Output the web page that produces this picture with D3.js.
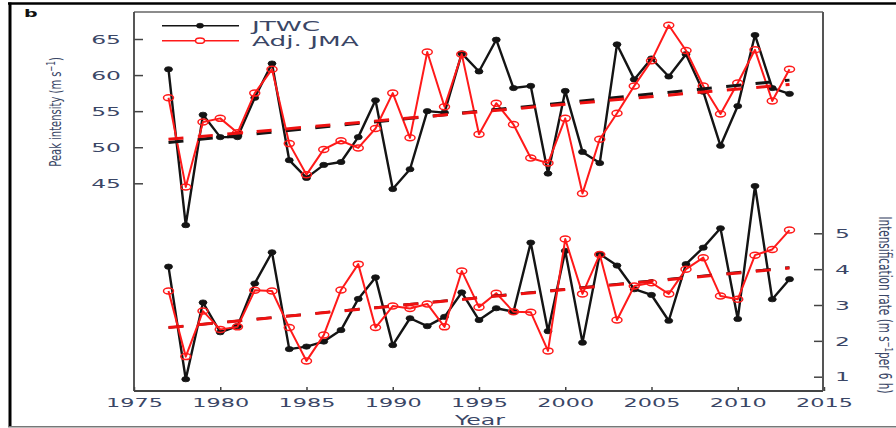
<!DOCTYPE html>
<html><head><meta charset="utf-8">
<script src="https://cdn.jsdelivr.net/npm/d3@7/dist/d3.min.js"></script>
<style>body{margin:0;background:#fff}svg{display:block}</style>
</head><body>
<svg id="c" width="896" height="428"></svg>
<script>
const years = [1977,1978,1979,1980,1981,1982,1983,1984,1985,1986,1987,1988,1989,1990,1991,1992,1993,1994,1995,1996,1997,1998,1999,2000,2001,2002,2003,2004,2005,2006,2007,2008,2009,2010,2011,2012,2013];
const jtwcPeak = [60.8,39.2,54.5,51.4,51.4,56.85,61.6,48.2,45.75,47.55, 47.95,51.4,56.5,44.2,46.95,55.0,54.8,63.0,60.5,64.9, 58.2,58.5,46.35,57.8,49.35,47.8,64.25,59.4,62.3,59.8, 62.9,57.7,50.2,55.7,65.55,58.2,57.4];
const jmaPeak = [56.85,44.5,53.5,54.0,52.0,57.5,60.8,50.5,46.2,49.7, 50.9,49.9,52.6,57.5,51.3,63.2,55.6,62.9,51.8,56.1, 53.15,48.5,47.8,54.0,43.6,51.1,54.7,58.5,62.0,66.9, 63.4,58.5,54.6,58.9,63.5,56.4,60.8];
const jtwcRate = [4.07,0.93,3.07,2.24,2.41,3.6,4.47,1.77,1.84,1.98, 2.3,3.17,3.77,1.88,2.63,2.41,2.67,3.35,2.58,2.91, 2.81,4.74,2.27,4.51,1.95,4.42,4.1,3.44,3.28,2.56, 4.14,4.6,5.14,2.61,6.32,3.16,3.72];
const jmaRate = [3.39,1.56,2.83,2.32,2.39,3.41,3.39,2.37,1.44,2.16, 3.42,4.14,2.37,2.97,2.9,3.03,2.39,3.95,2.94,3.33, 2.81,2.8,1.72,4.84,3.31,4.41,2.58,3.53,3.62,3.31, 4.0,4.32,3.25,3.16,4.39,4.55,5.09];
const trendYears = [1977, 2013];
const jtwcPeakTrend = [50.65, 59.3];
const jmaPeakTrend = [51.1, 58.7];
const jtwcRateTrend = [2.37, 4.05];
const jmaRateTrend = [2.37, 4.03];
const xTicks = [1975,1980,1985,1990,1995,2000,2005,2010,2015];
const peakTicks = [45,50,55,60,65];
const rateTicks = [1,2,3,4,5];
const seriesNames = ["JTWC","Adj. JMA"];

const svg = d3.select("#c");
const TXT = "#3a4666";
const FONT = "DejaVu Sans, sans-serif";
const L=134, R=823, T=12, B=391;

const x = d3.scaleLinear().domain([1975,2015]).range([134,824]);
const yTop = d3.scaleLinear().domain([45,65]).range([183.3,39]);
const yBot = d3.scaleLinear().domain([1,5]).range([376.7,233.3]);

// outer frame
svg.append("line").attr("x1",8).attr("x2",896).attr("y1",3.5).attr("y2",3.5).attr("stroke","#000").attr("stroke-width",2.5);
svg.append("line").attr("x1",10).attr("x2",10).attr("y1",2.5).attr("y2",427).attr("stroke","#000").attr("stroke-width",3);
svg.append("line").attr("x1",8).attr("x2",896).attr("y1",426.7).attr("y2",426.7).attr("stroke","#777").attr("stroke-width",1.5);

function stretch(sel, sx){
  sel.selectAll("text").each(function(){
    const t=d3.select(this);
    const xv=+t.attr("x")||0;
    t.attr("x", xv/sx).attr("transform",`scale(${sx},1)`)
     .attr("fill",TXT).style("font-family",FONT).style("font-size","13px");
  });
}

// axes
const gL = svg.append("g").attr("transform",`translate(${L},0)`)
  .call(d3.axisLeft(yTop).tickValues(peakTicks).tickFormat(d3.format("d")).tickSize(-9).tickPadding(13));
const gR = svg.append("g").attr("transform",`translate(${R},0)`)
  .call(d3.axisRight(yBot).tickValues(rateTicks).tickFormat(d3.format("d")).tickSize(-9).tickPadding(12));
const gB = svg.append("g").attr("transform",`translate(0,${B})`)
  .call(d3.axisBottom(x).tickValues(xTicks).tickFormat(d3.format("d")).tickSize(-4).tickPadding(6.3));
[gL,gR,gB].forEach(g=>{
  g.select(".domain").remove();
  g.selectAll(".tick line").attr("stroke","#444").attr("stroke-width",1.5);
});
stretch(gL,1.8); stretch(gR,1.8); stretch(gB,1.72);

// plot box
svg.append("line").attr("x1",L).attr("x2",R).attr("y1",T).attr("y2",T).attr("stroke","#666").attr("stroke-width",1.5);
svg.append("line").attr("x1",L).attr("x2",L).attr("y1",T).attr("y2",B).attr("stroke","#444").attr("stroke-width",1.8);
svg.append("line").attr("x1",R).attr("x2",R).attr("y1",T).attr("y2",B).attr("stroke","#555").attr("stroke-width",2);
svg.append("line").attr("x1",L).attr("x2",R).attr("y1",B).attr("y2",B).attr("stroke","#444").attr("stroke-width",1.8);

function drawSeries(vals, ys, color, width, filled){
  const line = d3.line().x((d,i)=>x(years[i])).y(d=>ys(d));
  svg.append("path").datum(vals).attr("d",line).attr("fill","none")
    .attr("stroke",color).attr("stroke-width",width).attr("stroke-linejoin","round");
  svg.append("g").selectAll("ellipse").data(vals).join("ellipse")
    .attr("cx",(d,i)=>x(years[i])).attr("cy",d=>ys(d))
    .attr("rx",filled?4:5).attr("ry",filled?2.6:3)
    .attr("fill",filled?color:"none").attr("stroke",color).attr("stroke-width",filled?0.8:1.5);
}
function drawTrend(vals, ys, color, w){
  const line = d3.line().x((d,i)=>x(trendYears[i])).y(d=>ys(d));
  svg.append("path").datum(vals).attr("d",line).attr("fill","none")
    .attr("stroke",color).attr("stroke-width",w).attr("stroke-dasharray","15,14.5");
}
const BLK="#141414", RED="#ff1a1a";
drawSeries(jtwcPeak, yTop, BLK, 2.4, true);
drawSeries(jmaPeak, yTop, RED, 2, false);
drawSeries(jtwcRate, yBot, BLK, 2.4, true);
drawSeries(jmaRate, yBot, RED, 2, false);
drawTrend(jtwcPeakTrend, yTop, BLK, 3);
drawTrend(jmaPeakTrend, yTop, "#ee1111", 3);
drawTrend(jtwcRateTrend, yBot, BLK, 2.4);
drawTrend(jmaRateTrend, yBot, "#ee1111", 3);

// legend
const leg=[{y:25.7,c:BLK,f:true},{y:40.7,c:RED,f:false}];
leg.forEach((l,i)=>{
  svg.append("line").attr("x1",162).attr("x2",239).attr("y1",l.y).attr("y2",l.y).attr("stroke",l.c).attr("stroke-width",1.5);
  svg.append("ellipse").attr("cx",200).attr("cy",l.y).attr("rx",l.f?3.5:4.5).attr("ry",l.f?2.4:2.6)
    .attr("fill",l.f?l.c:"#fff").attr("stroke",l.c).attr("stroke-width",l.f?0.8:1.5);
  svg.append("text").attr("transform",`translate(252,${l.y+5}) scale(1.95,1)`)
    .attr("fill",TXT).style("font-family",FONT).style("font-size","13.5px").text(seriesNames[i]);
});

// panel letter
svg.append("text").attr("transform","translate(24,16.7) scale(1.9,1)")
  .style("font-family",FONT).style("font-size","10px").style("font-weight","bold").attr("fill","#111").text("b");

// axis titles
const yl = svg.append("text").attr("transform","translate(61,112) scale(1.65,1) rotate(-90)")
  .attr("text-anchor","middle").attr("fill",TXT).style("font-family",FONT).style("font-size","10px");
yl.append("tspan").text("Peak intensity (m s");
yl.append("tspan").attr("dy",-3.5).style("font-size","7px").text("−1");
yl.append("tspan").attr("dy",3.5).text(")");

const yr = svg.append("text").attr("transform","translate(879,305) scale(1.6,1) rotate(90)")
  .attr("text-anchor","middle").attr("fill",TXT).style("font-family",FONT).style("font-size","10.5px");
yr.append("tspan").text("Intensification rate (m s");
yr.append("tspan").attr("dy",-3.5).style("font-size","7px").text("−1");
yr.append("tspan").attr("dy",3.5).text("per 6 h)");

svg.append("text").attr("transform","translate(480,424.5) scale(1.75,1)")
  .attr("text-anchor","middle").attr("fill",TXT).style("font-family",FONT).style("font-size","13.5px").text("Year");
</script>
</body></html>
